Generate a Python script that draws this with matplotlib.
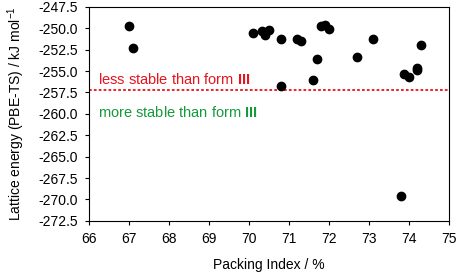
import matplotlib

matplotlib.use("Agg")
import matplotlib.pyplot as plt

plt.rcParams["font.family"] = ["Liberation Sans", "DejaVu Sans"]
plt.rcParams["mathtext.fontset"] = "custom"
plt.rcParams["mathtext.rm"] = "Liberation Sans"
plt.rcParams["mathtext.bf"] = "Liberation Sans:bold"

# Packing index (%) vs lattice energy (kJ/mol)
packing = [67.01, 67.11, 70.09, 70.32, 70.40, 70.51, 70.80, 70.80, 71.19, 71.30,
           71.70, 71.60, 71.80, 71.90, 72.00, 72.69, 73.09, 73.88, 74.00, 74.20,
           74.21, 74.29, 73.79]
energy = [-249.7, -252.3, -250.5, -250.3, -250.8, -250.2, -251.2, -256.7, -251.2, -251.5,
          -253.6, -256.1, -249.7, -249.6, -250.1, -253.4, -251.2, -255.4, -255.7, -254.9,
          -254.6, -251.9, -269.6]
form_iii = -257.2

fig, ax = plt.subplots(figsize=(4.59, 2.76), dpi=100)
fig.subplots_adjust(left=0.194, right=0.978, top=0.975, bottom=0.2)

ax.scatter(packing, energy, s=36, color="black", zorder=3)
ax.axhline(form_iii, color="#e8141e", linestyle=(0, (1.5, 1.2)), linewidth=1.3)
ax.text(66.22, -256.0, "less stable than form $\\mathbf{III}$", color="#e8141e",
        fontsize=10.5, va="center")
ax.text(66.22, -259.9, "more stable than form $\\mathbf{III}$", color="#159a3a",
        fontsize=10.5, va="center")

ax.set_xlim(66, 75)
ax.set_ylim(-272.5, -247.5)
ax.set_xticks(range(66, 76))
ax.set_yticks([-247.5 - 2.5 * i for i in range(11)])
ax.yaxis.set_major_formatter(matplotlib.ticker.FormatStrFormatter("%.1f"))
ax.tick_params(direction="out", labelsize=10, length=3, pad=5)
ax.set_xlabel("Packing Index / %", fontsize=10, labelpad=9)
ax.set_ylabel("Lattice energy (PBE-TS) / kJ mol$^{-1}$", fontsize=10, labelpad=8)

fig.savefig("out.png", dpi=100)
